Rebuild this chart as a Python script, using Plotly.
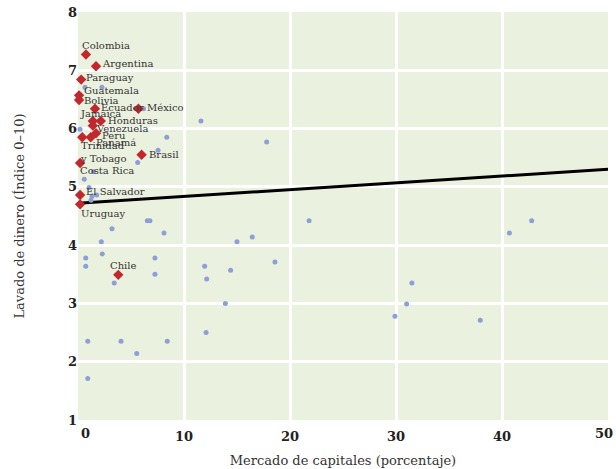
import plotly.graph_objects as go

# Latin American countries (red diamonds)
la_names = ["Colombia", "Argentina", "Paraguay", "Guatemala", "Bolivia", "Ecuador",
            "México", "Jamaica", "Honduras", "Venezuela", "Peru", "Panamá",
            "Trinidad<br>y Tobago", "Costa Rica", "Brasil", "El Salvador", "Uruguay", "Chile"]
la_x = [0.75, 1.7, 0.3, 0.1, 0.1, 1.6, 5.7, 1.4, 2.15, 1.4, 1.7, 1.2, 0.4, 0.2, 6.0, 0.2, 0.2, 3.8]
la_y = [7.27, 7.07, 6.84, 6.57, 6.49, 6.34, 6.34, 6.13, 6.13, 6.05, 5.92, 5.85, 5.85, 5.41,
        5.55, 4.86, 4.70, 3.49]

# Other countries (blue dots)
other_x = [0.66, 2.26, 6.18, 11.6, 0.19, 8.37, 7.55, 5.63, 17.8, 0.59, 1.44, 1.04, 1.32, 1.76,
           1.23, 6.54, 6.79, 3.21, 8.11, 2.2, 0.73, 0.73, 2.29, 7.26, 7.26, 3.42, 11.95, 12.14,
           16.44, 15.0, 14.4, 18.58, 21.8, 42.8, 40.7, 31.5, 31.0, 29.9, 37.95, 0.92, 4.06,
           5.54, 8.42, 0.92, 12.08, 13.9]
other_y = [6.71, 6.71, 6.34, 6.13, 5.99, 5.85, 5.63, 5.42, 5.77, 5.13, 5.26, 4.99, 4.84, 4.86,
           4.77, 4.42, 4.42, 4.28, 4.21, 4.06, 3.78, 3.64, 3.85, 3.78, 3.50, 3.35, 3.64, 3.42,
           4.14, 4.06, 3.57, 3.71, 4.42, 4.42, 4.21, 3.35, 2.99, 2.78, 2.71, 2.35, 2.35,
           2.14, 2.35, 1.71, 2.50, 3.00]

# Trend line
trend_intercept = 4.72
trend_slope = 0.0116
x_range = [0, 50]

x_ticks_inner = [10, 20, 30, 40]
x_ticks_edge = [0, 50]
y_ticks = [1, 2, 3, 4, 5, 6, 7, 8]

# label offsets in pixels (xshift, yshift)
label_shift = [(-6, 9), (4, 3), (3, 2), (3, 5), (3, 0), (4, 1), (7, 1), (-15, 7), (5, 0),
               (1, -3), (4, -2), (3, -5), (-4, -15), (-2, -8), (5, 0), (4, 4), (-1, -9), (-10, 9)]

tick_font = dict(family="DejaVu Serif", size=13, color="#222222", weight="bold")

fig = go.Figure()
fig.add_trace(go.Scatter(
    x=x_range, y=[trend_intercept + trend_slope * v for v in x_range],
    mode="lines", line=dict(color="black", width=3), hoverinfo="skip", showlegend=False))
fig.add_trace(go.Scatter(
    x=other_x, y=other_y, mode="markers", cliponaxis=False,
    marker=dict(color="#8e9fd8", size=5), showlegend=False))
fig.add_trace(go.Scatter(
    x=la_x, y=la_y, mode="markers", cliponaxis=False,
    marker=dict(color="#c0282d", size=8, symbol="diamond"), showlegend=False))

for name, x, y, (dx, dy) in zip(la_names, la_x, la_y, label_shift):
    fig.add_annotation(x=x, y=y, text=name, showarrow=False, xanchor="left", yanchor="middle",
                       xshift=dx, yshift=dy, align="left",
                       font=dict(family="DejaVu Serif", size=10, color="#333333"))

# edge tick labels kept inside the page
for v, anchor, shift in zip(x_ticks_edge, ["left", "right"], [1, 7]):
    fig.add_annotation(x=v, xref="x", y=0, yref="paper", text=str(v), showarrow=False,
                       xanchor=anchor, yanchor="middle", xshift=shift, yshift=-13,
                       font=tick_font)

fig.update_layout(
    width=616, height=469,
    margin=dict(l=78, r=8, t=12, b=49, autoexpand=False),
    paper_bgcolor="white", plot_bgcolor="#ebf1df",
    font=dict(family="DejaVu Serif", color="#222222"),
    xaxis=dict(range=x_range, tickvals=x_ticks_inner, showgrid=True, gridcolor="white",
               gridwidth=3, zeroline=False, showline=False, ticks="", ticklabelstandoff=7,
               tickfont=tick_font, automargin=False,
               title=dict(text="Mercado de capitales (porcentaje)", standoff=12,
                          font=dict(family="DejaVu Serif", size=13, color="#333333"))),
    yaxis=dict(range=[1, 8], tickvals=y_ticks, showgrid=True, gridcolor="white", gridwidth=3,
               zeroline=False, showline=False, ticks="", automargin=False,
               tickfont=tick_font,
               title=dict(text="Lavado de dinero (Índice 0–10)", standoff=40,
                          font=dict(family="DejaVu Serif", size=13, color="#333333"))),
)

fig.write_html("out.html", config={"displayModeBar": False},
               post_script="document.body.style.margin='0';document.body.style.padding='0';")
